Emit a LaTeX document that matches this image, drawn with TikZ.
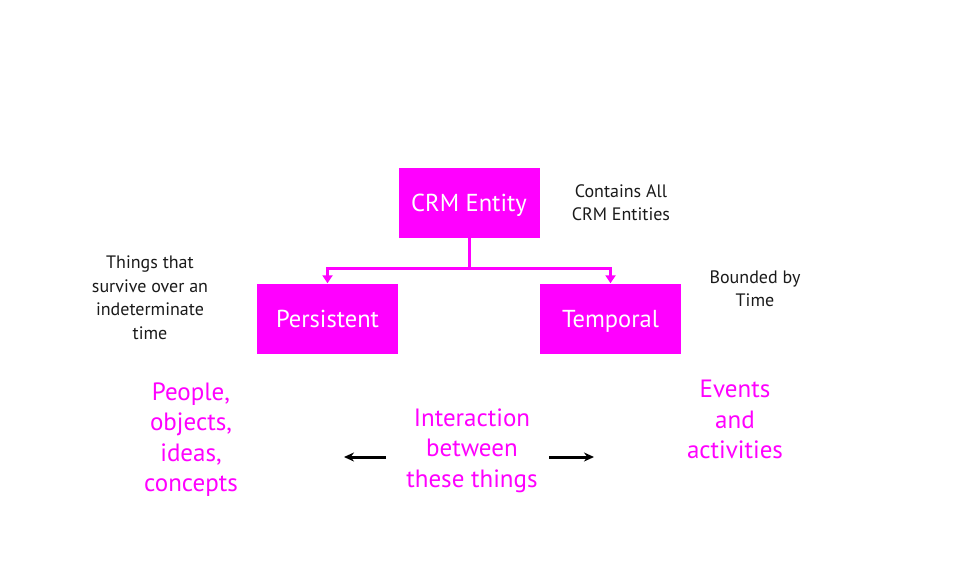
\documentclass[tikz,border=0pt]{standalone}
\usepackage{fontspec}
\setmainfont{PT Sans}
\usetikzlibrary{calc,positioning,arrows.meta}
\definecolor{CRMMagenta}{HTML}{FF00FF}
\definecolor{CRMDarkText}{HTML}{1A1A1A}
\begin{document}
\begin{tikzpicture}[x=1pt,y=-1pt,font=\fontsize{18pt}{23.5pt}\selectfont,
      ent/.style={fill=CRMMagenta,draw=none,minimum width=141pt,minimum height=70pt,text height=17pt,text depth=0pt,text=white,font=\fontsize{24.5pt}{26pt}\selectfont},
      note/.style={align=center,text=CRMDarkText},
      pink/.style={align=center,text=CRMMagenta,font=\fontsize{25pt}{30.5pt}\selectfont},
      arr/.style={-{Triangle[length=8pt,width=10pt]},line width=3pt,color=CRMMagenta},
      blk/.style={-{Stealth[length=10pt,width=9pt]},line width=3pt,color=black}]
      \useasboundingbox (0,0) rectangle (960,560);
      \node[ent] (crm) at (469,203) {CRM Entity};
      \node[ent] (pers) at (327.5,318.5) {Persistent};
      \node[ent] (temp) at (610.5,318.5) {Temporal};
      \draw[arr] (crm.south) -- ++(0,30) -| (pers.north);
      \draw[arr] (crm.south) -- ++(0,30) -| (temp.north);
      \node[note] (all) at (621,202.5) {Contains All\\CRM Entities};
      \node[note] (things) at (150,297.5) {Things that\\survive over an\\indeterminate\\time};
      \node[note] (bounded) at (755,288.5) {Bounded by\\Time};
      \node[pink] (people) at (191,439.5) {People,\\objects,\\ideas,\\concepts};
      \node[pink] (inter) at (472,450.5) {Interaction\\between\\these things};
      \node[pink] (events) at (735,419.5) {Events\\and\\activities};
      \coordinate (l1) at (386,457); \coordinate (l2) at (344,457);
      \coordinate (r1) at (549,457); \coordinate (r2) at (594,457);
      \draw[blk] (l1) -- (l2);
      \draw[blk] (r1) -- (r2);
    \end{tikzpicture}
\end{document}
